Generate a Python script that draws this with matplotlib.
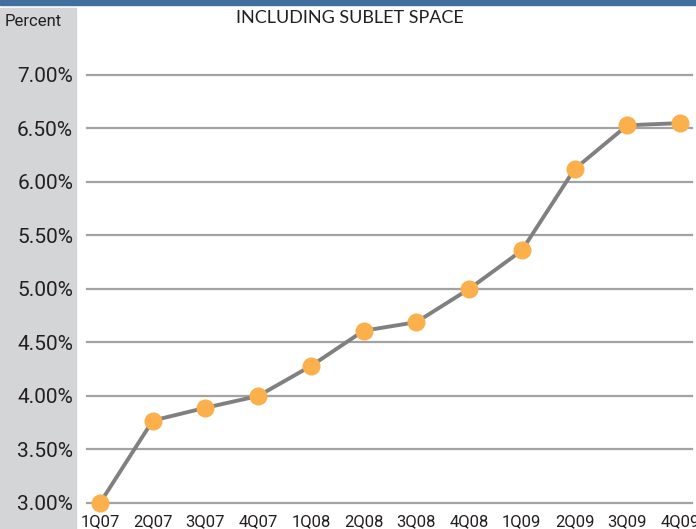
import matplotlib
matplotlib.use("Agg")
import matplotlib.pyplot as plt
from matplotlib.patches import Rectangle

quarters = ["1Q07", "2Q07", "3Q07", "4Q07", "1Q08", "2Q08", "3Q08", "4Q08",
            "1Q09", "2Q09", "3Q09", "4Q09"]
vacancy = [3.00, 3.77, 3.89, 4.00, 4.28, 4.61, 4.69, 5.00, 5.36, 6.12, 6.53, 6.55]
ytick_vals = [3.0, 3.5, 4.0, 4.5, 5.0, 5.5, 6.0, 6.5, 7.0]

narrow = ["Roboto", "DejaVu Sans"]

W, H = 696, 529
fig = plt.figure(figsize=(W / 100, H / 100), dpi=100)

# blue strip across the top and grey label panel on the left
fig.patches.append(Rectangle((0, 1 - 5 / H), 1, 5 / H, transform=fig.transFigure,
                             color="#41709e", zorder=0))
fig.patches.append(Rectangle((0, 0), 76 / W, 1 - 8 / H, transform=fig.transFigure,
                             color="#d4d5d7", zorder=0))

ax = fig.add_axes([87 / W, 1 - 503 / H, (692 - 87) / W, (503 - 8) / H])
ax.set_facecolor("none")
ax.set_zorder(2)

x = range(len(quarters))
ax.plot(x, vacancy, color="#808080", lw=2.8, zorder=3, clip_on=False)
ax.plot(x, vacancy, "o", color="#fbb04b", ms=13, mec="none", zorder=4, clip_on=False)

ax.set_xlim(-0.247, 11.228)
ax.set_ylim(3.0, 7.626)
ax.set_yticks(ytick_vals)
ax.set_yticklabels([f"{v:.2f}%" for v in ytick_vals], fontfamily=narrow, fontsize=15,
                   color="#231f20")
ax.set_xticks(list(x))
ax.set_xticklabels(quarters, fontfamily=narrow, fontsize=12, color="#231f20")
ax.tick_params(axis="y", length=0, pad=10)
ax.tick_params(axis="x", length=0, pad=8)
for y in ytick_vals:
    ax.axhline(y, color="#a3a3a3", lw=1.6, zorder=1, clip_on=False)
for s in ax.spines.values():
    s.set_visible(False)

fig.text(33 / W, 1 - 21 / H, "Percent", ha="center", va="center", fontfamily=narrow,
         fontsize=12, color="#231f20")
fig.text(350 / W, 1 - 18 / H, "INCLUDING SUBLET SPACE", ha="center", va="center",
         fontfamily=["Lato", "DejaVu Sans"], fontsize=13, color="#231f20")

fig.savefig("out.png", dpi=100)
